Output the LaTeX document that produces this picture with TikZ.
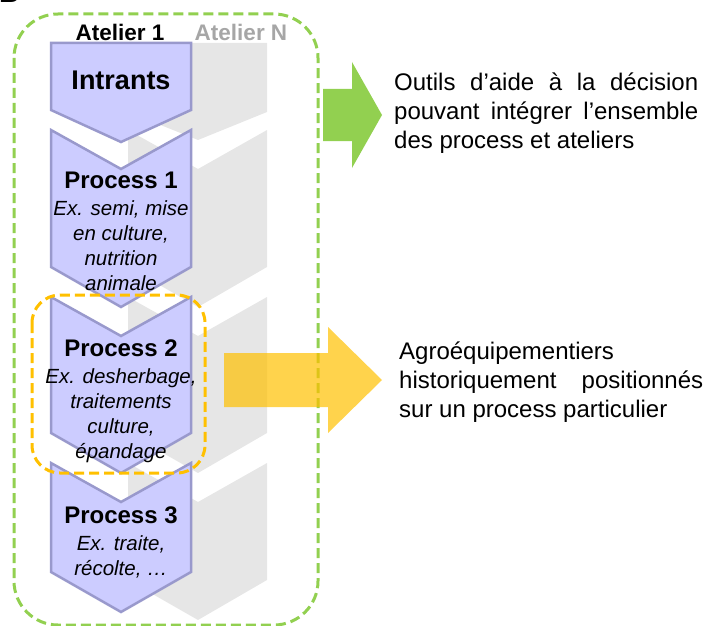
\documentclass[tikz,border=0pt]{standalone}
\usepackage{fontspec}
\setmainfont{Liberation Sans}
\usetikzlibrary{positioning}
\definecolor{stagefill}{HTML}{CCCCFF}
\definecolor{stageline}{HTML}{9999CC}
\definecolor{shade}{HTML}{E6E6E6}
\definecolor{ateliergray}{HTML}{A6A6A6}
\definecolor{toolgreen}{HTML}{92D050}
\definecolor{equiporange}{HTML}{FFC000}

\begin{document}
\begin{tikzpicture}
      [x=1pt, y=-1pt,
       stage/.style={fill=stagefill, draw=stageline, line width=2.5pt},
       ghost/.style={fill=shade},
       head/.style={font=\bfseries\fontsize{22.5}{22.5}\selectfont, inner sep=0pt},
       title/.style={font=\bfseries\fontsize{24}{28}\selectfont, inner sep=0pt},
       detail/.style={font=\itshape\fontsize{20.5}{25}\selectfont, align=center, inner sep=0pt},
       note/.style={font=\fontsize{24}{29}\selectfont, text width=304pt, align=justify, inner sep=0pt, anchor=west},
       frame/.style={dash pattern=on 10pt off 5pt, line width=3pt}]
      \useasboundingbox (0,0) rectangle (713,626);
      \begin{scope}
      \clip (0,0) rectangle (713,626);

      % Atelier N, behind
      \fill[ghost] (128,43) -- (267,43) -- (267,112) -- (198,140) -- (128,112) -- cycle;
      \foreach \ytop/\ybot in {130/267, 297/433, 463/580}
        \fill[ghost] (128,\ytop) -- (198,\ytop+39) -- (267,\ytop) -- (267,\ybot) -- (198,\ybot+40) -- (128,\ybot) -- cycle;

      % Atelier 1
      \draw[stage] (51,43) -- (191,43) -- (191,110) -- (121,142) -- (51,110) -- cycle;
      \foreach \ytop/\ybot in {130/267, 297/433, 463/572}
        \draw[stage] (51,\ytop) -- (121,\ytop+39) -- (191,\ytop) -- (191,\ybot) -- (121,\ybot+40) -- (51,\ybot) -- cycle;

      \node[head] (atelier1) at (120,32) {Atelier 1};
      \node[head, text=ateliergray] (atelierN) at (241,32) {Atelier N};
      \node[font=\bfseries\fontsize{27}{27}\selectfont, inner sep=0pt] (intrants) at (121,80) {Intrants};

      \node[title] (p1) at (121,180) {Process 1};
      \node[detail, below=12pt of p1] (p1ex) {Ex. semi, mise\\en culture,\\nutrition\\animale};
      \node[title] (p2) at (121,348) {Process 2};
      \node[detail, below=12pt of p2] (p2ex) {Ex. desherbage,\\traitements\\culture,\\épandage};
      \node[title] (p3) at (121,515) {Process 3};
      \node[detail, below=12pt of p3] (p3ex) {Ex. traite,\\récolte, …};

      \draw[frame, toolgreen, rounded corners=44pt] (14,14) rectangle (318,625);
      \draw[frame, equiporange, rounded corners=28pt] (32,295) rectangle (205,473);

      \fill[toolgreen] (323,89) -- (352,89) -- (352,62) -- (382,115) -- (352,168) -- (352,141) -- (323,141) -- cycle;
      \fill[equiporange, opacity=0.7] (224,353) -- (328,353) -- (328,327) -- (382,380) -- (328,433) -- (328,407) -- (224,407) -- cycle;

      \node[note] (tools) at (394,113) {Outils d’aide à la décision\linebreak pouvant intégrer l’ensemble\linebreak des process et ateliers};
      \node[note] (equip) at (399,382) {Agroéquipementiers\\historiquement positionnés\linebreak sur un process particulier};

      \node[font=\bfseries\fontsize{28}{28}\selectfont, anchor=base west, inner sep=0pt] (panel) at (-1,3) {B};
      \end{scope}
    \end{tikzpicture}
\end{document}
